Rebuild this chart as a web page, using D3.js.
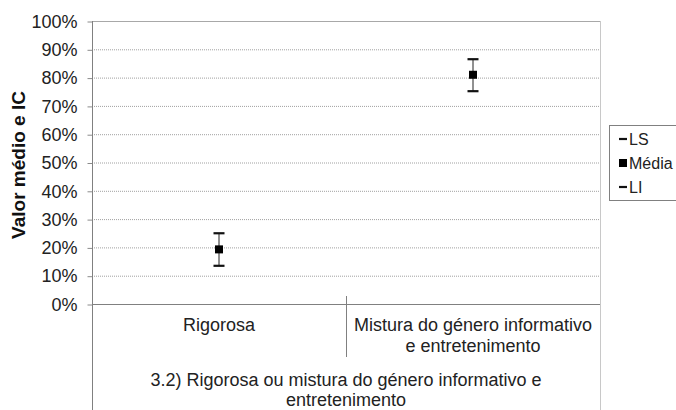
<!DOCTYPE html>
<html>
<head>
<meta charset="utf-8">
<script src="https://cdn.jsdelivr.net/npm/d3@7"></script>
<style>
  body { margin: 0; background: #fff; }
  svg { display: block; font-family: "Liberation Sans", Arial, sans-serif; }
</style>
</head>
<body>
<svg id="chart" width="676" height="410"></svg>
<script>
// data
const categories = ['Rigorosa', 'Mistura do género informativo e entretenimento'];
const categoryLines = [['Rigorosa'], ['Mistura do género informativo', 'e entretenimento']];
const upper = [0.25, 0.865];   // LS
const mean = [0.193, 0.81];    // Média
const lower = [0.135, 0.752];  // LI
const yTicks = [0, 0.1, 0.2, 0.3, 0.4, 0.5, 0.6, 0.7, 0.8, 0.9, 1];
const groupTitle = ['3.2) Rigorosa ou mistura do género informativo e', 'entretenimento'];
const legendItems = ['LS', 'Média', 'LI'];

const svg = d3.select('#chart');
const plotLeft = 92, plotRight = 600, plotTop = 21, plotBottom = 304;
const fontFam = '"Liberation Sans", Arial, sans-serif';

const y = d3.scaleLinear().domain([0, 1]).range([plotBottom, plotTop]);
const x = d3.scaleBand().domain(categories).range([plotLeft, plotRight]);

// gridlines (dotted)
svg.append('g')
  .selectAll('line')
  .data(yTicks.filter(d => d > 0 && d < 1))
  .enter()
  .append('line')
  .attr('x1', plotLeft)
  .attr('x2', plotRight)
  .attr('y1', d => y(d) + 0.5)
  .attr('y2', d => y(d) + 0.5)
  .attr('stroke', '#a0a0a0')
  .attr('stroke-width', 1)
  .attr('stroke-dasharray', '1,1');

// top border of plot area
svg.append('line')
  .attr('x1', plotLeft).attr('x2', plotRight)
  .attr('y1', y(1) + 0.5).attr('y2', y(1) + 0.5)
  .attr('stroke', '#a8a8a8');

// right border, runs all the way down
svg.append('line')
  .attr('x1', plotRight + 0.5).attr('x2', plotRight + 0.5)
  .attr('y1', y(1)).attr('y2', 410)
  .attr('stroke', '#c8c8c8');

// y axis
const yAxis = d3.axisLeft(y)
  .tickValues(yTicks)
  .tickFormat(d3.format('.0%'))
  .tickSize(5)
  .tickPadding(10);

const yg = svg.append('g')
  .attr('transform', `translate(${plotLeft + 0.5},0.5)`)
  .call(yAxis);
yg.select('.domain').remove();
yg.selectAll('.tick line').attr('stroke', '#8a8a8a');
yg.selectAll('.tick text')
  .attr('font-size', '18px')
  .attr('font-family', fontFam)
  .attr('fill', '#222');

// left axis line, down to the bottom of the label table
svg.append('line')
  .attr('x1', plotLeft + 0.5).attr('x2', plotLeft + 0.5)
  .attr('y1', y(1)).attr('y2', 410)
  .attr('stroke', '#808080');

// x axis baseline
svg.append('line')
  .attr('x1', plotLeft).attr('x2', plotRight)
  .attr('y1', y(0) + 0.5).attr('y2', y(0) + 0.5)
  .attr('stroke', '#808080');

// divider between categories
svg.append('line')
  .attr('x1', x(categories[1]) + 0.5)
  .attr('x2', x(categories[1]) + 0.5)
  .attr('y1', y(0) - 8)
  .attr('y2', 357)
  .attr('stroke', '#808080');

// category labels
categories.forEach((c, i) => {
  const t = svg.append('text')
    .attr('x', x(c) + x.bandwidth() / 2)
    .attr('y', 331)
    .attr('text-anchor', 'middle')
    .attr('font-size', '18px')
    .attr('font-family', fontFam)
    .attr('fill', '#222');
  categoryLines[i].forEach((line, j) => {
    t.append('tspan')
      .attr('x', x(c) + x.bandwidth() / 2)
      .attr('dy', j === 0 ? 0 : 21)
      .text(line);
  });
});

// group title under the categories
const gt = svg.append('text')
  .attr('x', (plotLeft + plotRight) / 2)
  .attr('y', 386)
  .attr('text-anchor', 'middle')
  .attr('font-size', '18px')
  .attr('font-family', fontFam)
  .attr('fill', '#222');
groupTitle.forEach((line, j) => {
  gt.append('tspan')
    .attr('x', (plotLeft + plotRight) / 2)
    .attr('dy', j === 0 ? 0 : 20)
    .text(line);
});

// y axis title
svg.append('text')
  .attr('transform', 'translate(25,165) rotate(-90)')
  .attr('text-anchor', 'middle')
  .attr('font-size', '19px')
  .attr('font-family', fontFam)
  .attr('font-weight', 'bold')
  .attr('fill', '#111')
  .text('Valor médio e IC');

// error bars
const points = categories.map((c, i) => ({
  cx: x(c) + x.bandwidth() / 2,
  hi: upper[i],
  mid: mean[i],
  lo: lower[i]
}));

const bars = svg.append('g')
  .selectAll('g')
  .data(points)
  .enter()
  .append('g')
  .attr('transform', d => `translate(${d.cx},0)`);

bars.append('line')
  .attr('x1', 0).attr('x2', 0)
  .attr('y1', d => y(d.hi)).attr('y2', d => y(d.lo))
  .attr('stroke', '#222')
  .attr('stroke-width', 1);

bars.selectAll('.cap')
  .data(d => [d.hi, d.lo])
  .enter()
  .append('line')
  .attr('class', 'cap')
  .attr('x1', -5.5).attr('x2', 5.5)
  .attr('y1', v => y(v)).attr('y2', v => y(v))
  .attr('stroke', '#111')
  .attr('stroke-width', 2.2);

bars.append('rect')
  .attr('x', -4)
  .attr('y', d => y(d.mid) - 4)
  .attr('width', 8)
  .attr('height', 8)
  .attr('fill', '#000');

// legend
const legend = svg.append('g').attr('transform', 'translate(609,125)');
legend.append('rect')
  .attr('x', 0.5).attr('y', 0.5)
  .attr('width', 75).attr('height', 75)
  .attr('fill', '#fff')
  .attr('stroke', '#808080');

legendItems.forEach((name, i) => {
  const ly = 14 + i * 24;
  if (name === 'Média') {
    legend.append('rect')
      .attr('x', 10).attr('y', ly - 4)
      .attr('width', 8).attr('height', 8)
      .attr('fill', '#000');
  } else {
    legend.append('line')
      .attr('x1', 10).attr('x2', 18)
      .attr('y1', ly).attr('y2', ly)
      .attr('stroke', '#111')
      .attr('stroke-width', 2.2);
  }
  legend.append('text')
    .attr('x', 20)
    .attr('y', ly + 6)
    .attr('font-size', '16px')
    .attr('font-family', fontFam)
    .attr('fill', '#222')
    .text(name);
});
</script>
</body>
</html>
